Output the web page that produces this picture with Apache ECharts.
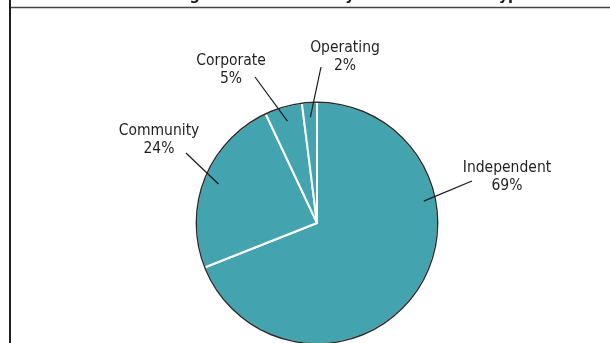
<!DOCTYPE html>
<html>
<head>
<meta charset="utf-8">
<script src="https://cdn.jsdelivr.net/npm/echarts@6/dist/echarts.min.js"></script>
<style>
  html, body { margin: 0; padding: 0; background: #ffffff; }
  #chart { width: 610px; height: 343px; }
</style>
</head>
<body>
<div id="chart"></div>
<script>
// Pharmacy ownership shares (percent)
const categories = ['Independent', 'Community', 'Corporate', 'Operating'];
const shares = [69, 24, 5, 2];

const chart = echarts.init(document.getElementById('chart'), null, { renderer: 'canvas' });

const FONT = "'DejaVu Sans Condensed', 'DejaVu Sans', sans-serif";
const CENTER = [317, 223];
const RADIUS = 121;
const START = 90;

// Label block centres and leader-line outer ends, per slice
const labelAt = [[507, 177], [159, 140], [231, 70], [345, 57]];
const lineEnd = [[472, 181], [186, 153], [255, 77], [321, 67]];
// Leader lines start inside the pie; Independent's is tilted up towards its label
const lineAngleOverride = [11.6, null, null, null];
const lineInset = 106;

const total = shares.reduce((a, b) => a + b, 0);
const midAngles = [];
let acc = 0;
shares.forEach(v => {
  midAngles.push(START - (acc + v / 2) / total * 360);
  acc += v;
});

const pieData = categories.map((name, i) => ({ name, value: shares[i] }));

const common = {
  type: 'pie',
  center: CENTER,
  radius: RADIUS,
  startAngle: START,
  clockwise: true,
  avoidLabelOverlap: false,
  silent: true,
  data: pieData
};

const slices = Object.assign({}, common, {
  z: 2,
  itemStyle: { color: '#43a3af', borderColor: '#ffffff', borderWidth: 2 },
  label: { show: false },
  labelLine: { show: false }
});

// thin dark rim around the pie
const rim = {
  type: 'pie',
  z: 3,
  center: CENTER,
  radius: [RADIUS - 1, RADIUS + 0.4],
  silent: true,
  data: [{ name: 'rim', value: total }],
  itemStyle: { color: '#2a2a2a', borderWidth: 0 },
  label: { show: false },
  labelLine: { show: false }
};

// transparent twin carrying the labels and leader lines above the slices
const labels = Object.assign({}, common, {
  z: 4,
  itemStyle: { color: 'rgba(0,0,0,0)', borderWidth: 0 },
  label: {
    show: true,
    position: 'outside',
    formatter: p => p.name + '\n' + p.value + '%',
    fontFamily: FONT,
    fontSize: 15.5,
    lineHeight: 18,
    color: '#1f1f1f',
    align: 'center'
  },
  labelLine: {
    show: true,
    length: 10,
    length2: 0,
    smooth: false,
    lineStyle: { color: '#1a1a1a', width: 1.2 }
  },
  labelLayout: function (params) {
    const i = params.dataIndex;
    const over = lineAngleOverride[i] != null;
    const ang = (over ? lineAngleOverride[i] : midAngles[i]) * Math.PI / 180;
    const r = over ? lineInset + 3 : lineInset;
    const sx = CENTER[0] + r * Math.cos(ang);
    const sy = CENTER[1] - r * Math.sin(ang);
    const e = lineEnd[i];
    return {
      x: labelAt[i][0],
      y: labelAt[i][1],
      align: 'center',
      verticalAlign: 'middle',
      labelLinePoints: [[sx, sy], [e[0], e[1]], [e[0], e[1]]]
    };
  }
});

chart.setOption({
  backgroundColor: '#ffffff',
  animation: false,
  graphic: [
    {
      type: 'text',
      x: 117,
      y: 4,
      style: {
        text: 'Percentage of Pharmacies by Business Model Type',
        textAlign: 'left',
        textVerticalAlign: 'bottom',
        font: "bold 16px " + FONT,
        fill: '#1a1a1a'
      },
      silent: true
    },
    {
      type: 'line',
      shape: { x1: 10, y1: 7.5, x2: 610, y2: 7.5 },
      style: { stroke: '#444444', lineWidth: 1.5 },
      silent: true
    },
    {
      type: 'line',
      shape: { x1: 10, y1: 0, x2: 10, y2: 343 },
      style: { stroke: '#1e1e1e', lineWidth: 2 },
      silent: true
    }
  ],
  series: [slices, rim, labels]
});
</script>
</body>
</html>
